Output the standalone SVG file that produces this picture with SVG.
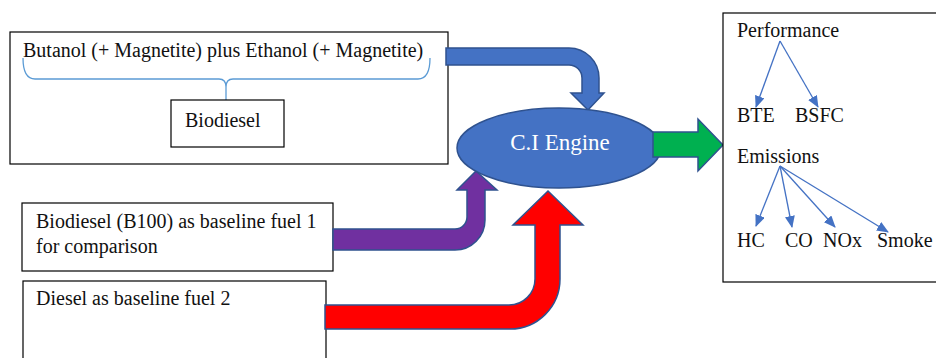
<svg xmlns="http://www.w3.org/2000/svg" width="936" height="358" viewBox="0 0 936 358">
<defs>
<style>
.box{fill:#fff;stroke:#000;stroke-width:1.2}
.t{font-family:"Liberation Serif","Times New Roman",serif;font-size:20px;fill:#111}
.big{stroke:#2F528F;stroke-width:1.5;stroke-linejoin:miter}
.thin{stroke:#4472C4;stroke-width:1.3;fill:none;marker-end:url(#ah)}
</style>
<marker id="ah" markerUnits="userSpaceOnUse" markerWidth="12" markerHeight="10" refX="11" refY="5" orient="auto">
<path d="M0,0 L12,5 L0,10 Z" fill="#4472C4"/>
</marker>
</defs>
<rect width="936" height="358" fill="#fff"/>

<g id="fuel-blend">
<rect class="box" x="10" y="32" width="438" height="132"/>
<text class="t" x="23" y="57">Butanol (+ Magnetite) plus Ethanol (+ Magnetite)</text>
<path d="M23,58 Q23,79 35,79 H219 Q226,79 226,87 Q226,79 233,79 H418 Q430,79 430,58 M226,87 V101" fill="none" stroke="#5B9BD5" stroke-width="1.3"/>
</g>
<g id="biodiesel">
<rect class="box" x="171" y="100" width="113" height="47"/>
<text class="t" x="185" y="127">Biodiesel</text>
</g>
<g id="b100">
<rect class="box" x="22" y="203" width="311" height="68"/>
<text class="t" x="36" y="228">Biodiesel (B100) as baseline fuel 1</text>
<text class="t" x="36" y="253">for comparison</text>
</g>
<g id="diesel">
<rect class="box" x="23" y="281" width="303" height="90"/>
<text class="t" x="36" y="305">Diesel as baseline fuel 2</text>
</g>

<g id="connectors">
<path class="big" fill="#4472C4" d="M446,48 H569 A30,30 0 0 1 599,78 V93 H604 L588,110 L571,93 H582 V78 A13,13 0 0 0 569,65 H446 Z"/>
<path class="big" fill="#7030A0" d="M333,229 H455 A12,12 0 0 0 467,217 V190 H457 L476,171 L497,190 H485 V220 A30,30 0 0 1 455,250 H333 Z"/>
<path class="big" fill="#FF0000" d="M325,305 H509 A26,26 0 0 0 535,279 V225 H513 L548,191 L583,225 H560 V279 A50,50 0 0 1 510,329 H325 Z"/>
</g>

<g id="engine">
<ellipse cx="559" cy="148" rx="102" ry="40" fill="#4472C4" stroke="#2F528F" stroke-width="1.5"/>
<text x="560" y="150" text-anchor="middle" font-family="Liberation Serif, Times New Roman, serif" font-size="23" fill="#fff">C.I Engine</text>
</g>

<g id="output-arrow">
<path class="big" fill="#00B050" d="M653,132 H698 V119 L723,145 L698,171 V157 H653 Z"/>
</g>

<g id="results">
<rect class="box" x="723" y="13" width="230" height="269"/>
<text class="t" x="737" y="37">Performance</text>
<text class="t" x="737" y="122">BTE</text>
<text class="t" x="795" y="122">BSFC</text>
<text class="t" x="737" y="163">Emissions</text>
<text class="t" x="737" y="247">HC</text>
<text class="t" x="785" y="247">CO</text>
<text class="t" x="823" y="247">NOx</text>
<text class="t" x="877" y="247">Smoke</text>
<g id="result-connectors">
<line class="thin" x1="780" y1="41" x2="756" y2="107"/>
<line class="thin" x1="780" y1="41" x2="818" y2="107"/>
<line class="thin" x1="780" y1="166" x2="756" y2="226"/>
<line class="thin" x1="780" y1="166" x2="792" y2="227"/>
<line class="thin" x1="780" y1="166" x2="835" y2="227"/>
<line class="thin" x1="780" y1="166" x2="888" y2="232"/>
</g>
</g>
</svg>
